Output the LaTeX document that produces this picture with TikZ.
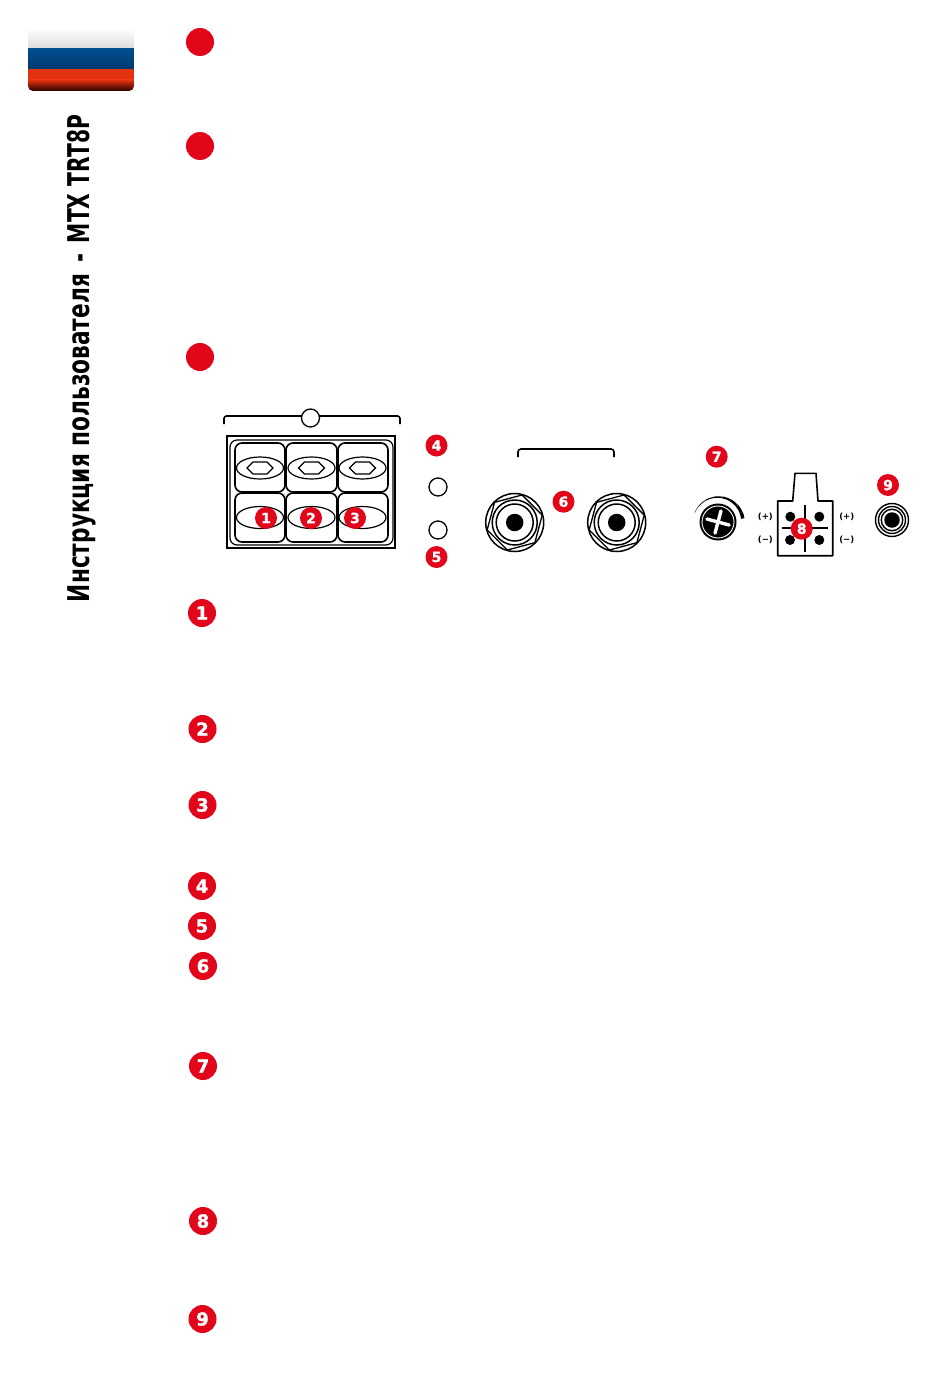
\documentclass[tikz,border=0pt]{standalone}
\usepackage{fontspec}
\setmainfont{DejaVu Sans}
\newfontfamily\digitfont[FakeBold=1.5]{DejaVu Sans}
\usetikzlibrary{shapes.geometric}
\definecolor{brandred}{HTML}{E2061A}
\definecolor{flagblue}{HTML}{004F8F}
\definecolor{flagblued}{HTML}{00396F}
\definecolor{flagred}{HTML}{E2320F}
\tikzset{
  badge/.style={circle,fill=brandred,draw=none,minimum size=#1,inner sep=0pt,text=white},
  bigbadge/.style={badge=28pt,font=\digitfont\bfseries\fontsize{18}{18}\selectfont},
  smallbadge/.style={badge=22pt,font=\digitfont\bfseries\fontsize{14}{14}\selectfont},
  dotmark/.style={badge=28pt},
  ln/.style={draw=black,line width=1.2pt,fill=none},
  lnb/.style={draw=black,line width=1.6pt,fill=none},
  pin/.style={circle,fill=black,draw=none,minimum size=10pt,inner sep=0pt},
  pol/.style={font=\fontsize{8.5}{9}\bfseries\selectfont,inner sep=0pt},
  hexa/.style={regular polygon,regular polygon sides=6,draw=black,line width=1.3pt,minimum size=#1,inner sep=0pt,shape border rotate=15},
  ring/.style={circle,draw=black,line width=#1,inner sep=0pt}
}
\begin{document}
\begin{tikzpicture}[x=1pt,y=-1pt]
\useasboundingbox (0,0) rectangle (950,1383);
\fill[white] (0,0) rectangle (950,1383);
% flag
\begin{scope}
\clip[rounded corners=5pt] (28,28) rectangle (134,91);
\shade[top color=white,bottom color=white!86!black] (28,28) rectangle (134,49);
\shade[top color=flagblue,bottom color=flagblued] (28,49) rectangle (134,69);
\fill[flagred] (28,69) rectangle (134,84);
\shade[top color=flagred,bottom color=black!85!red] (28,80) rectangle (134,91);
\end{scope}
% title
\node[rotate=90,anchor=base,inner sep=0pt] (title) at (89,358.5) {\bfseries\fontsize{30}{30}\selectfont\resizebox{328pt}{\height}{Инструкция пользователя}\hspace{12pt}\resizebox{9pt}{\height}{-}\hspace{10pt}\resizebox{128pt}{\height}{MTX TRT8P}};
% top red marks
\node[dotmark] (m1) at (200,42) {};
\node[dotmark] (m2) at (200,146) {};
\node[dotmark] (m3) at (200,357) {};
% terminal block
\draw[lnb,rounded corners=2.5pt] (224,424) -- (224,416) -- (400,416) -- (400,424);
\node[ring=1.3pt,minimum size=18pt,fill=white] (topc) at (310.5,418) {};
\draw[line width=1.5pt] (227,436) rectangle (395,548);
\draw[ln,rounded corners=7pt] (230,440) rectangle (393,545);
\foreach \xa/\xb/\cx in {235/285/260,286/337/311.5,338/388/362.5}{
  \draw[lnb,rounded corners=7pt] (\xa,443) rectangle (\xb,492);
  \draw[lnb,rounded corners=7pt] (\xa,493) rectangle (\xb,542);
  \draw[ln] (\cx,468) ellipse (23.5 and 11);
  \draw[ln] (\cx,517.5) ellipse (23.5 and 11);
  \draw[ln] (\cx-13,468) -- (\cx-7,462) -- (\cx+7,462) -- (\cx+13,468) -- (\cx+7,474) -- (\cx-7,474) -- cycle;
}
\node[smallbadge] (t1) at (266,518) {1};
\node[smallbadge] (t2) at (311,518) {2};
\node[smallbadge] (t3) at (355,518) {3};
\node[smallbadge] (t4) at (436.5,445.5) {4};
\node[smallbadge] (t5) at (436.5,557) {5};
\node[ring=1.3pt,minimum size=18pt] (led1) at (438,487) {};
\node[ring=1.3pt,minimum size=18pt] (led2) at (438,530) {};
% RCA
\draw[lnb,rounded corners=3pt] (518,457) -- (518,449) -- (614,449) -- (614,457);
\foreach \cx/\nm in {514.7/a,616.7/b}{
  \node[ring=1.5pt,minimum size=58pt] (rca\nm) at (\cx,522.5) {};
  \node[hexa=57pt] (hex\nm) at (\cx,522.5) {};
  \node[ring=1.5pt,minimum size=45pt] (rcb\nm) at (\cx,522.5) {};
  \node[ring=1.5pt,minimum size=37pt] (rcc\nm) at (\cx,522.5) {};
  \node[circle,fill=black,minimum size=17.5pt,inner sep=0pt] (rcd\nm) at (\cx,522.5) {};
}
\node[smallbadge] (t6) at (563.5,501.7) {6};
% knob
\node[smallbadge] (t7) at (716.7,456.7) {7};
\foreach \a/\b/\w in {158/140/0.4,140/120/0.7,120/100/1.1,100/80/1.5,80/60/2,60/40/2.5,40/22/3,22/8/3.4}{
  \draw[line width=\w pt] (718,522) ++(\a:25 and -25) arc[start angle=-\a,end angle=-\b,radius=25];
}
\node[circle,fill=black,minimum size=37pt,inner sep=0pt] (knob) at (718,522) {};
\node[circle,draw=white,line width=0.9pt,inner sep=0pt,minimum size=32pt] (knobr) at (718,522) {};
\begin{scope}[shift={(718,522)},rotate=-15]
\draw[white,line width=3.4pt,line cap=round] (-11.5,0) -- (11.5,0);
\draw[white,line width=3.4pt,line cap=round] (0,-11.5) -- (0,11.5);
\end{scope}
% power connector
\draw[lnb,line join=round] (792.7,501) -- (795,473.3) -- (816,473.3) -- (818,501) -- (832.7,501) -- (832.7,555.7) -- (777.7,555.7) -- (777.7,501) -- cycle;
\node[pin] (p1) at (790.3,516.7) {};
\node[pin] (p2) at (819.3,516.7) {};
\node[pin] (p3) at (790,540) {};
\node[pin] (p4) at (819.3,540) {};
\draw[line width=1.6pt] (805,505) -- (805,551.7);
\draw[line width=1.6pt] (781.7,527.7) -- (828.3,527.7);
\node[smallbadge] (t8) at (801.7,528.7) {8};
\node[pol] (l1) at (765.3,516.7) {(+)};
\node[pol] (l2) at (765.3,540) {(−)};
\node[pol] (r1) at (846.7,516.7) {(+)};
\node[pol] (r2) at (846.7,540) {(−)};
% jack
\node[smallbadge] (t9) at (888,485) {9};
\foreach \d/\nm in {33/a,27/b,21.5/c}{
  \node[ring=1.4pt,minimum size=\d pt] (j\nm) at (892,520) {};
}
\node[circle,fill=black,minimum size=15.5pt,inner sep=0pt] (jack) at (892,520) {};
% side badges
\node[bigbadge] (s1) at (202,613) {1};
\node[bigbadge] (s2) at (202.5,729) {2};
\node[bigbadge] (s3) at (202.5,805) {3};
\node[bigbadge] (s4) at (202,886) {4};
\node[bigbadge] (s5) at (202,926) {5};
\node[bigbadge] (s6) at (203,966) {6};
\node[bigbadge] (s7) at (203,1066) {7};
\node[bigbadge] (s8) at (203,1221) {8};
\node[bigbadge] (s9) at (202.5,1319) {9};
\end{tikzpicture}
\end{document}
